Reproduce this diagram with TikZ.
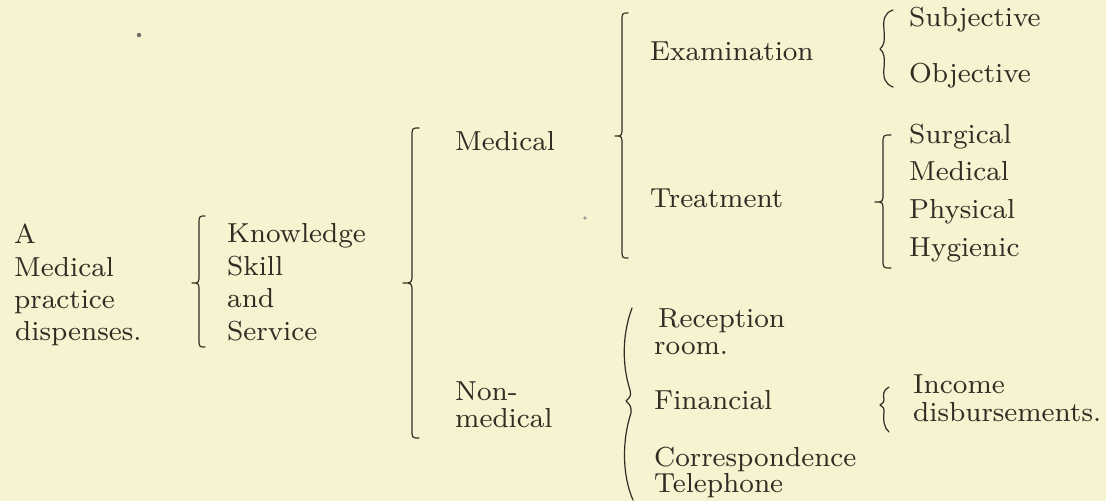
\documentclass[tikz,border=0pt]{standalone}
\usepackage{fontspec}
\setmainfont{lmroman8-regular.otf}
\definecolor{paper}{RGB}{247,242,208}
\definecolor{ink}{RGB}{48,45,36}
\newcommand\stdbrace[6]{%
  \draw[brc] (#5,#2) .. controls (#1,#2) .. (#1,{#2+9}) -- (#1,{#3-9})
    .. controls (#1,#3) .. (#6,#3) .. controls (#1,#3) .. (#1,{#3+9})
    -- (#1,{#4-9}) .. controls (#1,#4) .. (#5,#4);}
\tikzset{
  lbl/.style={anchor=base west, inner sep=0pt, text=ink, font=\fontsize{27.5}{32}\selectfont},
  brc/.style={draw=ink, line width=1.2pt, line cap=round, line join=round},
  speck/.style={fill=ink!70}
}
\begin{document}
\begin{tikzpicture}[x=1pt,y=-1pt]
\fill[paper] (0,0) rectangle (1106,501);
\useasboundingbox (0,0) rectangle (1106,501);

% column 1
\node[lbl] (a1) at (14,243) {A};
\node[lbl] (a2) at (14,276) {Medical};
\node[lbl] (a3) at (14,308) {practice};
\node[lbl] (a4) at (15,340) {dispenses.};
% column 2
\node[lbl] (k1) at (227,242) {Knowledge};
\node[lbl] (k2) at (227,275) {Skill};
\node[lbl] (k3) at (227,307) {and};
\node[lbl] (k4) at (227,340) {Service};
% column 3
\node[lbl] (med) at (455,150) {Medical};
\node[lbl] (non1) at (455,400) {Non-};
\node[lbl] (non2) at (455,427) {medical};
% column 4
\node[lbl] (exam) at (650,60) {Examination};
\node[lbl] (treat) at (650,207) {Treatment};
\node[lbl] (rec1) at (658,327) {Reception};
\node[lbl] (rec2) at (654,354) {room.};
\node[lbl] (fin) at (654,409) {Financial};
\node[lbl] (cor) at (654,466) {Correspondence};
\node[lbl] (tel) at (654,492) {Telephone};
% column 5
\node[lbl] (subj) at (909,26) {Subjective};
\node[lbl] (obj) at (909,82) {Objective};
\node[lbl] (surg) at (909,143) {Surgical};
\node[lbl] (tmed) at (909,180) {Medical};
\node[lbl] (phys) at (909,218) {Physical};
\node[lbl] (hyg) at (909,256) {Hygienic};
\node[lbl] (inc) at (913,393) {Income};
\node[lbl] (dis) at (913,421) {disbursements.};

% braces: x, top, mid, bottom, hook x, tip x
\stdbrace{199}{216}{283}{347}{205}{192}
\stdbrace{412}{128}{283}{438}{419}{403}
\stdbrace{622}{13}{136}{258}{628}{615}
\stdbrace{883}{135}{202}{268}{891}{875}

% Subjective / Objective brace
\draw[brc] (893,10) .. controls (884,13) and (883,20) .. (884,30)
  .. controls (885,40) and (884,46) .. (880,49)
  .. controls (884,52) and (885,58) .. (884,68)
  .. controls (883,78) and (885,84) .. (893,87);
% Income brace
\draw[brc] (889,387) .. controls (883,390) and (883,395) .. (884,399)
  .. controls (884,402) .. (880,405) .. controls (884,408) .. (884,412)
  .. controls (883,420) and (884,428) .. (889,432);
% Non-medical brace
\draw[brc] (632,308) .. controls (622,335) and (622,365) .. (630,390)
  .. controls (631,396) .. (626,401) .. controls (631,406) .. (631,413)
  .. controls (622,440) and (622,475) .. (633,500);

% specks
\fill[speck] (139,35) circle (2.2);
\fill[speck, fill=ink!45] (585,218) circle (1.8);
\end{tikzpicture}
\end{document}
